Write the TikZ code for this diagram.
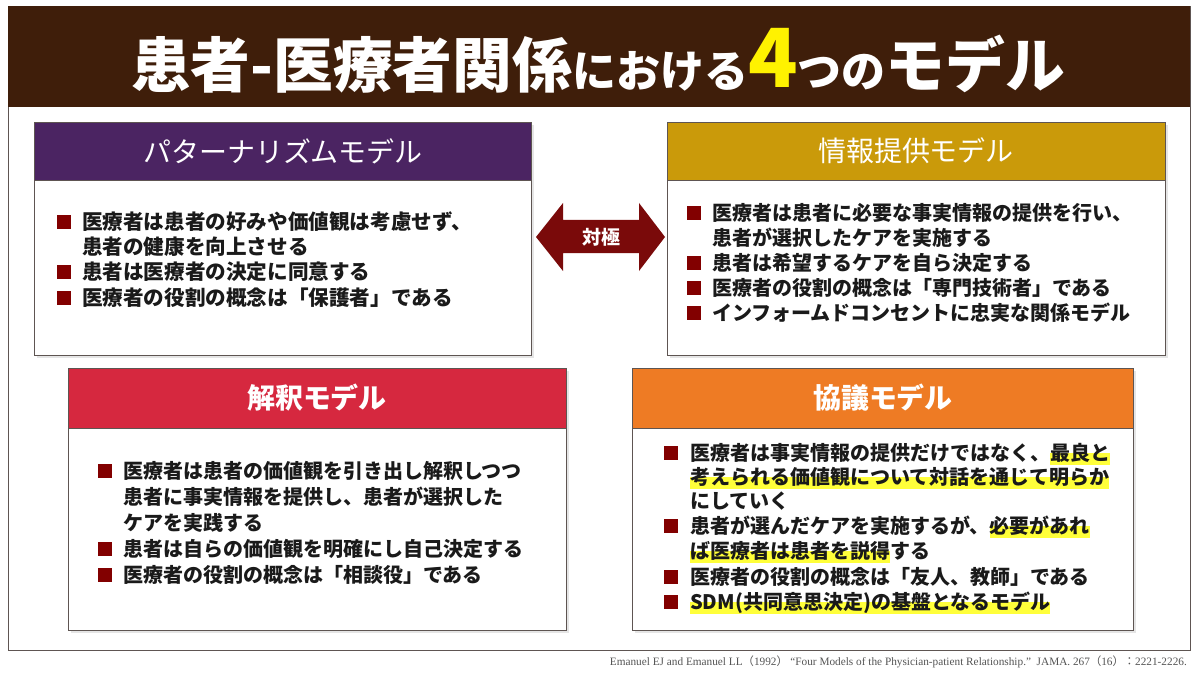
\documentclass[tikz,border=0pt]{standalone}
\usepackage{fontspec}
\usepackage{graphicx}
\setmainfont{Noto Sans CJK JP}
\newfontfamily\citefont{Liberation Serif}
\definecolor{titlebrown}{HTML}{3F1E0A}
\definecolor{framecol}{HTML}{5E5552}
\definecolor{hpurple}{HTML}{4B2462}
\definecolor{hgold}{HTML}{CA9A0A}
\definecolor{hred}{HTML}{D6283F}
\definecolor{horange}{HTML}{EE7B24}
\definecolor{arrowred}{HTML}{7A0A0A}
\definecolor{bulred}{HTML}{820000}
\definecolor{hlyellow}{HTML}{FFFF3A}
\definecolor{bodytext}{HTML}{1A1A1A}
\definecolor{citegray}{HTML}{555555}
\newcommand\hlt[1]{\setbox0\hbox{#1}\leavevmode\rlap{\color{hlyellow}\rule[-0.22em]{\wd0}{0.62em}}\box0}
\tikzset{
  boxbody/.style={fill=white, draw=framecol, line width=1.1pt},
  boxshadow/.style={fill=black!10},
  hdrtext/.style={text=white, inner sep=0pt, font=\fontsize{39.8pt}{44pt}\selectfont},
  bodyline/.style={anchor=west, inner sep=0pt, text=bodytext, text height=0.88cm, text depth=0.12cm, font=\fontsize{28.45pt}{34pt}\selectfont\bfseries},
  bodylinel/.style={bodyline, font=\fontsize{29.3pt}{34pt}\selectfont\bfseries},
  bul/.style={fill=bulred, minimum size=0.72cm, inner sep=0pt}
}
\begin{document}
\begin{tikzpicture}[x=0.05cm, y=-0.05cm]
\useasboundingbox (0,0) rectangle (1200,675);
\fill[white] (0,0) rectangle (1200,675);
% outer frame and title bar
\draw[framecol, line width=1.2pt] (8,6) rectangle (1190,650);
\fill[titlebrown] (8,6) rectangle (1190,107);
\node[anchor=base, inner sep=0pt, text=white, font=\bfseries] (title) at (598,88)
  {{\fontsize{85pt}{90pt}\selectfont 患者-医療者関係}{\fontsize{62.6pt}{66pt}\selectfont における}{\fontsize{116pt}{120pt}\selectfont\color{yellow}4}{\fontsize{62.6pt}{66pt}\selectfont つの}{\fontsize{85pt}{90pt}\selectfont モデル}};

% shadows
\fill[boxshadow] (37,125) rectangle (534,358);
\fill[boxshadow] (670,125) rectangle (1168,358);
\fill[boxshadow] (71,371) rectangle (569,633);
\fill[boxshadow] (635,371) rectangle (1136,633);

% top-left box
\draw[boxbody] (34,122) rectangle (531,355);
\draw[fill=hpurple, draw=framecol, line width=1.1pt] (34,122) rectangle (531,180);
\node[hdrtext] (tlh) at (283,151) {パターナリズムモデル};
% top-right box
\draw[boxbody] (667,122) rectangle (1165,355);
\draw[fill=hgold, draw=framecol, line width=1.1pt] (667,122) rectangle (1165,180);
\node[hdrtext] (trh) at (916,151) {情報提供モデル};
% bottom-left box
\draw[boxbody] (68,368) rectangle (566,630);
\draw[fill=hred, draw=framecol, line width=1.1pt] (68,368) rectangle (566,428);
\node[hdrtext, font=\fontsize{39.8pt}{44pt}\selectfont\bfseries] (blh) at (317,398) {解釈モデル};
% bottom-right box
\draw[boxbody] (632,368) rectangle (1133,630);
\draw[fill=horange, draw=framecol, line width=1.1pt] (632,368) rectangle (1133,428);
\node[hdrtext, font=\fontsize{39.8pt}{44pt}\selectfont\bfseries] (brh) at (883,398) {協議モデル};

% double arrow
\fill[arrowred] (536,237) -- (563,203) -- (563,220) -- (639,220) -- (639,203) -- (665,237)
  -- (639,271) -- (639,253) -- (563,253) -- (563,271) -- cycle;
\node[text=white, inner sep=0pt, font=\fontsize{27pt}{30pt}\selectfont\bfseries] (opp) at (601,237) {対極};

% TL text
\node[bul] (tlb1) at (64,222) {};
\node[bodylinel] (tl1) at (82,222) {医療者は患者の好みや価値観は考慮せず、};
\node[bodylinel] (tl2) at (82,247) {患者の健康を向上させる};
\node[bul] (tlb3) at (64,272) {};
\node[bodylinel] (tl3) at (82,272) {患者は医療者の決定に同意する};
\node[bul] (tlb4) at (64,298) {};
\node[bodylinel] (tl4) at (82,298) {医療者の役割の概念は「保護者」である};

% TR text
\node[bul] (trb1) at (694,213) {};
\node[bodyline] (tr1) at (712,213) {医療者は患者に必要な事実情報の提供を行い、};
\node[bodyline] (tr2) at (712,238) {患者が選択したケアを実施する};
\node[bul] (trb3) at (694,263) {};
\node[bodyline] (tr3) at (712,263) {患者は希望するケアを自ら決定する};
\node[bul] (trb4) at (694,288) {};
\node[bodyline] (tr4) at (712,288) {医療者の役割の概念は「専門技術者」である};
\node[bul] (trb5) at (694,313) {};
\node[bodyline] (tr5) at (712,313) {インフォームドコンセントに忠実な関係モデル};

% BL text
\node[bul] (blb1) at (105,471) {};
\node[bodyline] (bl1) at (123,471) {医療者は患者の価値観を引き出し解釈しつつ};
\node[bodyline] (bl2) at (123,497) {患者に事実情報を提供し、患者が選択した};
\node[bodyline] (bl3) at (123,523) {ケアを実践する};
\node[bul] (blb4) at (105,549) {};
\node[bodyline] (bl4) at (123,549) {患者は自らの価値観を明確にし自己決定する};
\node[bul] (blb5) at (105,575) {};
\node[bodyline] (bl5) at (123,575) {医療者の役割の概念は「相談役」である};

% BR text
\node[bul] (brb1) at (671,453) {};
\node[bodyline] (br1) at (690,453) {医療者は事実情報の提供だけではなく、\hlt{最良と}};
\node[bodyline] (br2) at (690,477) {\hlt{考えられる価値観について対話を通じて明らか}};
\node[bodyline] (br3) at (690,501) {にしていく};
\node[bul] (brb4) at (671,526) {};
\node[bodyline] (br4) at (690,526) {患者が選んだケアを実施するが、\hlt{必要があれ}};
\node[bodyline] (br5) at (690,551) {\hlt{ば医療者は患者を説得}する};
\node[bul] (brb6) at (671,577) {};
\node[bodyline] (br6) at (690,577) {医療者の役割の概念は「友人、教師」である};
\node[bul] (brb7) at (671,602) {};
\node[bodyline] (br7) at (690,602) {\hlt{SDM(共同意思決定)の基盤となるモデル}};

% citation
\node[anchor=east, inner sep=0pt, text=citegray] (cite) at (1187,662)
  {\resizebox{28.85cm}{!}{\fontsize{15pt}{17pt}\selectfont{\citefont Emanuel EJ and Emanuel LL}（{\citefont 1992}） {\citefont “Four Models of the Physician-patient Relationship.”\ \ JAMA. 267}（{\citefont 16}）：{\citefont 2221-2226.}}};
\end{tikzpicture}
\end{document}
